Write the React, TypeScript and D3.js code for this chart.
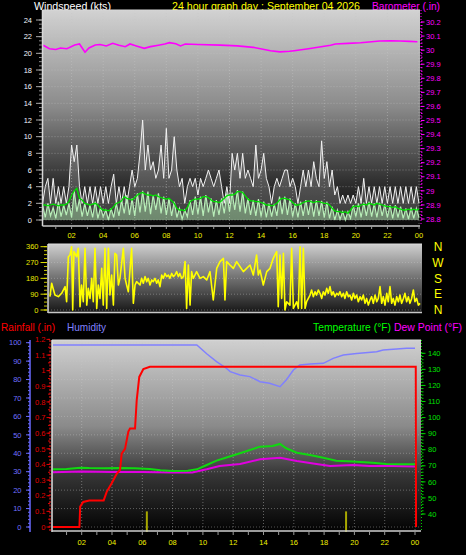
import React from 'react';
import * as d3 from 'd3';

const W = 466, H = 555;
const FONT = '"Liberation Sans", Arial, sans-serif';

// ---------- tick labels ----------
const hourTicks = [2, 4, 6, 8, 10, 12, 14, 16, 18, 20, 22, 24];
const hourTickLabels = ['02', '04', '06', '08', '10', '12', '14', '16', '18', '20', '22', '00'];
const windTicks = [0, 2, 4, 6, 8, 10, 12, 14, 16, 18, 20, 22, 24];
const baroTicks = [28.8, 28.9, 29.0, 29.1, 29.2, 29.3, 29.4, 29.5, 29.6, 29.7, 29.8, 29.9, 30.0, 30.1, 30.2];
const dirTicks = [0, 90, 180, 270, 360];
const compassLabels = ['N', 'E', 'S', 'W', 'N'];
const humTicks = [0, 10, 20, 30, 40, 50, 60, 70, 80, 90, 100];
const rainTicks = [0, 0.1, 0.2, 0.3, 0.4, 0.5, 0.6, 0.7, 0.8, 0.9, 1.0, 1.1, 1.2];
const tempTicks = [40, 50, 60, 70, 80, 90, 100, 110, 120, 130, 140];

// ---------- wind (10-minute samples) ----------
const windGust = [
  2, 4, 5, 2, 5, 2, 4, 2, 4, 2, 4, 9,
  7, 9, 4, 2, 4, 2, 4, 2, 4, 2, 4, 2,
  4, 2, 4, 5.5, 2, 4, 2, 4, 2, 4, 6, 4,
  5, 8, 12, 6, 9, 6, 7, 5, 6, 9, 5, 11,
  5, 6, 10, 6, 4, 5, 2, 4, 5, 4, 5, 3,
  5, 4, 5, 6, 5, 4, 5, 6, 4, 2, 4, 2,
  8, 6, 8, 5, 8, 5, 6, 5, 4, 9, 5, 6,
  8, 5, 4, 2, 4, 5, 4, 5, 6, 6, 4, 5,
  4, 2, 4, 6, 4, 6, 4, 7, 5, 4, 9.5, 5,
  7, 4, 6, 3, 4, 2, 3, 2, 3, 2, 3, 2,
  4, 2, 5, 2, 4, 2, 4, 2, 4, 2, 4, 2,
  4, 2, 4, 2, 4, 2, 4, 2, 4, 2, 4, 2,
];
const windSpeed = [
  1.8, 0.3, 2.0, 0.5, 1.5, 0.2, 2.2, 0.4, 1.8, 0.6, 2.0, 0.3,
  3.5, 1.0, 2.5, 0.4, 2.0, 0.5, 1.8, 0.3, 2.2, 0.2, 1.5, 0.4,
  1.2, 0.0, 1.4, 0.3, 2.0, 0.5, 2.4, 0.8, 3.0, 0.6, 2.6, 0.5,
  3.2, 0.9, 3.5, 1.0, 3.4, 0.7, 3.0, 1.2, 3.2, 0.8, 2.8, 0.6,
  2.6, 0.5, 2.2, 0.3, 1.4, 0.1, 1.2, 0.4, 2.4, 0.6, 2.8, 0.7,
  2.8, 0.5, 3.0, 0.9, 2.6, 0.4, 2.4, 0.6, 2.6, 0.8, 3.2, 1.0,
  3.3, 1.2, 3.6, 1.0, 3.4, 0.8, 2.6, 0.6, 2.4, 0.5, 2.5, 0.4,
  2.2, 0.3, 2.0, 0.4, 1.9, 0.5, 2.8, 0.7, 2.8, 0.6, 2.6, 0.4,
  2.0, 0.3, 2.2, 0.5, 2.4, 0.6, 2.4, 0.4, 2.4, 0.5, 2.3, 0.3,
  2.2, 0.2, 1.6, 0.0, 1.2, 0.1, 1.0, 0.0, 1.0, 0.2, 1.8, 0.4,
  2.0, 0.3, 2.1, 0.5, 2.2, 0.4, 2.0, 0.3, 2.1, 0.5, 1.9, 0.3,
  1.8, 0.2, 1.8, 0.3, 1.6, 0.2, 1.4, 0.1, 1.5, 0.2, 1.4, 0.3,
];
const windAvg = [
  1.8, 1.8, 1.7, 1.8, 1.9, 1.8, 1.7, 1.8, 1.8, 1.9, 2.2, 3.0,
  3.5, 3.8, 2.6, 2.4, 2.0, 1.9, 1.8, 1.9, 2.0, 1.8, 1.4, 1.2,
  1.2, 1.1, 1.3, 1.6, 2.0, 2.1, 2.3, 2.8, 2.6, 2.5, 2.4, 2.7,
  3.0, 3.2, 3.3, 3.1, 3.0, 3.0, 2.9, 3.0, 2.8, 2.7, 2.6, 2.5,
  2.6, 2.3, 2.0, 1.4, 1.2, 1.2, 1.1, 1.5, 2.2, 2.4, 2.5, 2.5,
  2.6, 2.8, 2.8, 2.7, 2.4, 2.2, 2.2, 2.1, 2.3, 2.6, 2.9, 3.0,
  3.0, 3.1, 3.4, 3.4, 3.3, 2.9, 2.5, 2.3, 2.3, 2.2, 2.2, 2.1,
  2.0, 1.8, 1.8, 1.7, 1.8, 2.0, 2.4, 2.6, 2.6, 2.5, 2.4, 2.1,
  1.8, 1.8, 1.9, 2.1, 2.2, 2.3, 2.2, 2.1, 2.2, 2.2, 2.1, 2.0,
  2.0, 1.8, 1.4, 1.1, 1.0, 1.0, 0.9, 1.0, 0.8, 1.2, 1.6, 1.7,
  1.6, 1.8, 1.9, 1.8, 2.0, 1.9, 1.8, 2.0, 1.9, 1.8, 1.7, 1.6,
  1.6, 1.5, 1.6, 1.4, 1.3, 1.2, 1.2, 1.3, 1.2, 1.3, 1.2, 1.3,
];

// ---------- barometer ----------
const baroHours = [0.2, 0.6, 1.0, 1.3, 1.7, 2.2, 2.5, 2.85, 3.1, 3.5, 3.8, 4.2, 4.6, 5.0, 5.4, 5.7, 6.1, 6.6, 7.0, 7.5, 7.9, 8.2, 8.6, 8.9, 9.2, 10.0, 11.4, 12.5, 13.5, 14.2, 14.6, 15.2, 15.8, 16.1, 17.0, 17.7, 18.4, 18.7, 19.5, 20.3, 21.0, 21.5, 22.2, 22.8, 23.4, 23.9];
const baroValues = [30.035, 30.01, 30.005, 30.015, 30.01, 30.036, 30.044, 29.985, 30.015, 30.036, 30.04, 30.03, 30.049, 30.035, 30.024, 30.044, 30.03, 30.013, 30.025, 30.035, 30.044, 30.053, 30.045, 30.03, 30.044, 30.04, 30.036, 30.03, 30.02, 30.005, 29.996, 29.988, 29.992, 29.996, 30.01, 30.022, 30.035, 30.044, 30.048, 30.053, 30.06, 30.065, 30.066, 30.065, 30.062, 30.06];

// ---------- wind direction ----------
const dirHours = [
  0.19, 0.30, 0.51, 0.73, 0.94, 1.16, 1.26, 1.37, 1.48, 1.58, 1.65, 1.73, 1.90, 2.01, 2.12, 2.22, 2.33, 2.44, 2.55, 2.65,
  2.76, 2.87, 2.97, 3.08, 3.19, 3.29, 3.40, 3.51, 3.61, 3.72, 3.83, 3.94, 4.04, 4.15, 4.26, 4.36, 4.47, 4.58, 4.68, 4.90,
  5.01, 5.11, 5.22, 5.43, 5.54, 5.65, 5.75,
  5.97, 6.07, 6.18, 6.29, 6.40, 6.50, 6.61, 6.72, 6.82, 6.93, 7.04, 7.14, 7.25, 7.36, 7.47, 7.57, 7.68, 7.79, 7.89, 8.00,
  8.11, 8.21, 8.32, 8.43, 8.53, 8.64, 8.75,
  8.86, 8.96, 9.07, 9.18, 9.28, 9.39, 9.60, 9.82, 10.03, 10.25, 10.46, 10.67, 10.89, 11.10, 11.32, 11.42, 11.53, 11.74, 11.96, 12.17,
  12.39, 12.60, 12.81, 13.03, 13.24, 13.45, 13.56, 13.67, 13.88, 14.10, 14.31, 14.52, 14.63, 14.74, 14.84, 14.95, 15.06, 15.17, 15.27, 15.38,
  15.59, 15.70, 15.81, 16.02, 16.13, 16.24, 16.34, 16.45, 16.56, 16.66,
  16.88, 16.98, 17.09, 17.20, 17.30, 17.41, 17.52, 17.63, 17.73, 17.84, 17.95, 18.05, 18.16, 18.27, 18.37, 18.48, 18.59, 18.70, 18.80, 18.91,
  19.02, 19.12, 19.23, 19.34, 19.44, 19.55, 19.66, 19.76, 19.87, 19.98, 20.09, 20.19, 20.30, 20.41, 20.51, 20.62, 20.73, 20.83, 20.94, 21.05,
  21.16, 21.26, 21.37, 21.48, 21.58, 21.69, 21.80, 21.90, 22.01, 22.12, 22.22, 22.33, 22.44, 22.55, 22.65, 22.76, 22.87, 22.97, 23.08, 23.19,
  23.29, 23.40, 23.51, 23.61, 23.72, 23.83, 23.94,
];
const dirValues = [
  76, 152, 85, 76, 95, 133, 47, 303, 313, 360, 0, 332, 303, 351, 19, 142, 47, 351, 28, 123,
  66, 180, 47, 351, 9, 142, 66, 237, 28, 351, 9, 351, 85, 199, 28, 322, 313, 142, 180, 351,
  180, 142, 104, 351, 38, 142, 161,
  142, 180, 152, 190, 161, 180, 142, 171, 161, 180, 152, 171, 133, 199, 180, 208, 190, 199, 180, 208,
  190, 199, 218, 190, 208, 180, 190,
  275, 9, 256, 28, 218, 180, 218, 180, 190, 171, 218, 57, 237, 275, 294, 57, 275, 256, 237, 275,
  246, 218, 237, 256, 199, 313, 199, 227, 142, 218, 237, 294, 313, 332, 19, 313, 66, 322, 0, 47,
  28, 351, 9, 47, 9, 360, 9, 351, 9, 47,
  85, 114, 76, 104, 85, 114, 95, 66, 104, 85, 123, 95, 133, 85, 104, 76, 95, 85, 104, 76,
  95, 66, 104, 76, 85, 57, 95, 66, 85, 47, 76, 57, 85, 38, 66, 28, 57, 76, 38, 85,
  47, 66, 133, 38, 76, 28, 95, 47, 133, 38, 66, 28, 76, 47, 85, 38, 66, 95, 47, 76,
  38, 66, 114, 47, 66, 28, 38,
];

// ---------- bottom panel ----------
const humHours = [0.1, 9.6, 10.25, 10.9, 11.57, 11.8, 12.45, 13.1, 13.77, 14.4, 15.09, 15.5, 15.97, 16.4, 17.07, 17.95, 18.6, 19.27, 20.15, 21.47, 21.9, 23.45, 24.0];
const humValues = [98.8, 98.8, 94, 89.7, 86, 84.3, 82.5, 81.6, 78.8, 78, 76.1, 79.8, 85.2, 87.9, 88.4, 88.8, 91.5, 93.3, 94.2, 95.1, 96, 97, 97];

const tempHours = [0.1, 1.0, 1.9, 2.5, 3.5, 4.5, 5.5, 6.5, 7.2, 8.0, 9.0, 9.6, 10.25, 10.9, 11.5, 12.45, 13.1, 13.77, 14.6, 15.09, 15.5, 16.2, 17.07, 17.95, 18.8, 19.9, 21.2, 22.1, 23.0, 24.0];
const tempValues = [67.8, 68.0, 68.8, 68.6, 68.5, 68.6, 68.4, 68.0, 67.2, 66.8, 66.9, 67.8, 70.5, 73.2, 75.0, 77.8, 79.8, 81.9, 82.3, 83.6, 80.9, 78.1, 76.7, 75.0, 73.2, 72.6, 71.9, 71.1, 71.0, 71.0];

const dewHours = [0.1, 2.0, 4.0, 6.0, 8.0, 9.3, 10.25, 11.1, 12.45, 13.77, 15.1, 16.2, 17.5, 18.4, 19.9, 21.0, 22.5, 24.0];
const dewValues = [66.0, 66.4, 66.2, 66.1, 65.8, 65.8, 67.8, 69.9, 71.1, 74.0, 75.0, 73.0, 71.1, 69.9, 70.5, 69.9, 69.8, 69.6];

const rainHours = [0.1, 1.85, 1.9, 2.1, 2.5, 3.45, 3.65, 3.98, 4.31, 4.53, 4.64, 4.86, 5.08, 5.19, 5.52, 5.63, 5.8, 6.07, 6.5, 24.05, 24.07];
const rainValues = [0, 0, 0.13, 0.16, 0.17, 0.17, 0.225, 0.28, 0.34, 0.365, 0.47, 0.5, 0.61, 0.63, 0.63, 0.81, 0.96, 1.01, 1.025, 1.025, 0];

const eventHours = [6.3, 19.45];
const eventValues = [0.1, 0.1];

function fmtOne(v: number) {
  const r = Math.round(v * 10) / 10;
  return Number.isInteger(r) ? String(r) : r.toFixed(1);
}

function series(xs: number[], ys: number[], x: any, y: any) {
  const pts: [number, number][] = ys.map((v, i) => [x(xs[i]), y(v)]);
  return d3.line()(pts) || '';
}
function areaSeries(xs: number[], ys: number[], x: any, y: any, base: number) {
  const gen = d3.area<number>().x((_, i) => x(xs[i])).y0(y(base)).y1((v) => y(v));
  return gen(ys) || '';
}

export default function App() {
  const xTop = d3.scaleLinear().domain([0, 24]).range([40, 419]);
  const yWind = d3.scaleLinear().domain([0, 24]).range([220, 20]);
  const yBaro = d3.scaleLinear().domain([28.8, 30.2]).range([219, 22]);
  const xMid = d3.scaleLinear().domain([0, 24]).range([47, 421]);
  const yDir = d3.scaleLinear().domain([0, 360]).range([310, 246.7]);
  const xBot = d3.scaleLinear().domain([0, 24]).range([51.4, 415]);
  const yHum = d3.scaleLinear().domain([0, 100]).range([527, 342.7]);
  const yRain = d3.scaleLinear().domain([0, 1.2]).range([527, 339.4]);
  const yTemp = d3.scaleLinear().domain([40, 140]).range([514, 353.3]);

  const sampleHours = windGust.map((_, i) => (i + 1) / 6);

  const top = { x0: 42.5, x1: 420, y0: 10, y1: 226 };
  const mid = { x0: 48, x1: 422, y0: 244, y1: 313 };
  const bot = { x0: 52, x1: 421, y0: 340, y1: 532 };

  const hourAll = d3.range(1, 25);
  const windMinor = d3.range(0, 24.01, 0.5);
  const baroMinor = d3.range(28.8, 30.201, 0.025);
  const humMinor = d3.range(0, 100.1, 2);
  const rainMinor = d3.range(0, 1.201, 0.05);
  const tempMinor = d3.range(40, 140.1, 2);
  const dirMinor = d3.range(0, 360.1, 22.5);

  const tick = 7.5;

  return (
    <svg width={W} height={H} style={{ position: 'absolute', left: 0, top: 0, display: 'block' }} fontFamily={FONT}>
      <defs>
        <linearGradient id="gTop" x1="0" y1="0" x2="0" y2="1">
          <stop offset="0" stopColor="#d2d2d2" />
          <stop offset="0.45" stopColor="#8a8a8a" />
          <stop offset="0.8" stopColor="#2e2e2e" />
          <stop offset="1" stopColor="#0a0a0a" />
        </linearGradient>
        <linearGradient id="gMid" x1="0" y1="0" x2="0" y2="1">
          <stop offset="0" stopColor="#cfcfcf" />
          <stop offset="0.5" stopColor="#707070" />
          <stop offset="1" stopColor="#151515" />
        </linearGradient>
        <linearGradient id="gBot" x1="0" y1="0" x2="0" y2="1">
          <stop offset="0" stopColor="#d0d0d0" />
          <stop offset="0.45" stopColor="#8a8a8a" />
          <stop offset="0.7" stopColor="#363636" />
          <stop offset="1" stopColor="#020202" />
        </linearGradient>
        <clipPath id="cTop"><rect x={top.x0} y={top.y0} width={top.x1 - top.x0} height={top.y1 - top.y0} /></clipPath>
        <clipPath id="cMid"><rect x={mid.x0} y={mid.y0} width={mid.x1 - mid.x0} height={mid.y1 - mid.y0} /></clipPath>
        <clipPath id="cBot"><rect x={bot.x0} y={bot.y0} width={bot.x1 - bot.x0 + 2} height={bot.y1 - bot.y0} /></clipPath>
        <clipPath id="cRainLbl"><rect x={0} y={337} width={60} height={200} /></clipPath>
      </defs>
      <rect x={0} y={0} width={W} height={H} fill="#000" />

      {/* ===== headers ===== */}
      <text x={34} y={10} fontSize={11} fill="#ffffff" textLength={77} lengthAdjust="spacingAndGlyphs">Windspeed (kts)</text>
      <text x={172} y={10} fontSize={11} fill="#ffff00" textLength={188} lengthAdjust="spacingAndGlyphs">24 hour graph day : September 04 2026</text>
      <text x={372} y={10} fontSize={11} fill="#ff00ff" textLength={68} lengthAdjust="spacingAndGlyphs">Barometer (.in)</text>

      {/* ===== TOP PANEL ===== */}
      <rect x={top.x0} y={top.y0} width={top.x1 - top.x0} height={top.y1 - top.y0} fill="url(#gTop)" />
      {windTicks.map((t) => (
        <line key={'tg' + t} x1={top.x0} x2={top.x1} y1={yWind(t)} y2={yWind(t)} stroke="#c8c8c8" strokeOpacity={0.45} strokeDasharray="1,2" />
      ))}
      {hourTicks.map((h) => (
        <line key={'tv' + h} x1={xTop(h)} x2={xTop(h)} y1={top.y0} y2={top.y1} stroke="#c8c8c8" strokeOpacity={0.45} strokeDasharray="1,2" />
      ))}
      <g clipPath="url(#cTop)">
        <path d={areaSeries(sampleHours, windGust, xTop, yWind, 0)} fill="#ffffff" fillOpacity={0.18} stroke="none" />
        <path d={series(sampleHours, windGust, xTop, yWind)} fill="none" stroke="#f2f2f2" strokeWidth={1} />
        <path d={areaSeries(sampleHours, windSpeed, xTop, yWind, 0)} fill="#b0e8b0" fillOpacity={0.45} stroke="none" />
        <path d={series(sampleHours, windSpeed, xTop, yWind)} fill="none" stroke="#b8eeb8" strokeWidth={1.2} />
        <path d={series(sampleHours, windAvg, xTop, yWind)} fill="none" stroke="#00e000" strokeWidth={1.3} />
        <path d={series(baroHours, baroValues, xTop, yBaro)} fill="none" stroke="#ff00ff" strokeWidth={1.6} />
      </g>
      <line x1={top.x0} x2={top.x0} y1={top.y0} y2={top.y1} stroke="#d8d8d8" strokeWidth={1.5} />
      <line x1={top.x0} x2={top.x1} y1={top.y1} y2={top.y1} stroke="#c8c8c8" strokeWidth={1.5} />
      <line x1={top.x0} x2={top.x1} y1={top.y0} y2={top.y0} stroke="#d8d8d8" strokeWidth={1} />
      {hourAll.map((h) => (
        <line key={'tt' + h} x1={xTop(h)} x2={xTop(h)} y1={top.y1} y2={top.y1 + 3} stroke="#9a9a9a" />
      ))}
      {windMinor.map((t) => (
        <line key={'wm' + t} x1={39} x2={42} y1={yWind(t)} y2={yWind(t)} stroke="#8c8c8c" />
      ))}
      {windTicks.map((t) => (
        <g key={'wt' + t}>
          <line x1={36} x2={42} y1={yWind(t)} y2={yWind(t)} stroke="#a8a8a8" />
          <text x={32} y={yWind(t) + 2.7} fontSize={tick} fill="#f0f4ff" textAnchor="end">{t}</text>
        </g>
      ))}
      <line x1={421} x2={421} y1={top.y0} y2={top.y1} stroke="#ff00ff" strokeDasharray="1,2" />
      {baroMinor.map((t) => (
        <line key={'bm' + t} x1={421} x2={422.5} y1={yBaro(t)} y2={yBaro(t)} stroke="#ff00ff" />
      ))}
      {baroTicks.map((t) => (
        <g key={'bt' + t}>
          <line x1={421} x2={424.5} y1={yBaro(t)} y2={yBaro(t)} stroke="#ff00ff" />
          <text x={426} y={yBaro(t) + 2.7} fontSize={tick} fill="#ff00ff">{fmtOne(t)}</text>
        </g>
      ))}
      {hourTicks.map((h, i) => (
        <text key={'tl' + h} x={xTop(h)} y={237.5} fontSize={tick} fill="#f0f000" textAnchor="middle">{hourTickLabels[i]}</text>
      ))}

      {/* ===== MIDDLE PANEL ===== */}
      <rect x={mid.x0} y={mid.y0} width={mid.x1 - mid.x0} height={mid.y1 - mid.y0} fill="url(#gMid)" />
      {dirTicks.map((t) => (
        <line key={'mg' + t} x1={mid.x0} x2={mid.x1} y1={yDir(t)} y2={yDir(t)} stroke="#c8c8c8" strokeOpacity={0.4} strokeDasharray="1,2" />
      ))}
      <g clipPath="url(#cMid)">
        <path d={series(dirHours, dirValues, xMid, yDir)} fill="none" stroke="#ffff00" strokeWidth={1.6} strokeLinejoin="round" />
      </g>
      <line x1={mid.x0} x2={mid.x0} y1={mid.y0} y2={mid.y1} stroke="#d8d8d8" strokeWidth={1.5} />
      <line x1={mid.x0} x2={mid.x1} y1={mid.y1 - 0.5} y2={mid.y1 - 0.5} stroke="#c8c8c8" strokeWidth={1.5} />
      <line x1={mid.x0} x2={mid.x1} y1={mid.y0} y2={mid.y0} stroke="#dcdcdc" strokeWidth={1} />
      {dirMinor.map((t) => (
        <line key={'dm' + t} x1={44} x2={47} y1={yDir(t)} y2={yDir(t)} stroke="#c8c800" />
      ))}
      {dirTicks.map((t, i) => (
        <g key={'dt' + t}>
          <line x1={40.5} x2={47} y1={yDir(t)} y2={yDir(t)} stroke="#e0e000" />
          <text x={38.5} y={yDir(t) + 2.7} fontSize={tick} fill="#e8e800" textAnchor="end">{t}</text>
          <text x={438} y={yDir(t) + 4.3} fontSize={12} fill="#ffff00" textAnchor="middle">{compassLabels[i]}</text>
        </g>
      ))}

      {/* ===== BOTTOM PANEL ===== */}
      <text x={1} y={331} fontSize={11} fill="#ff0000" textLength={54} lengthAdjust="spacingAndGlyphs">Rainfall (.in)</text>
      <text x={67} y={331} fontSize={11} fill="#8080ff" textLength={39} lengthAdjust="spacingAndGlyphs">Humidity</text>
      <text x={313} y={331} fontSize={11} fill="#00ff00" textLength={78} lengthAdjust="spacingAndGlyphs">Temperature (°F)</text>
      <text x={394} y={331} fontSize={11} fill="#ff00ff" textLength={68} lengthAdjust="spacingAndGlyphs">Dew Point (°F)</text>

      <rect x={bot.x0} y={bot.y0} width={bot.x1 - bot.x0} height={bot.y1 - bot.y0} fill="url(#gBot)" />
      {humTicks.map((t) => (
        <line key={'hg' + t} x1={bot.x0} x2={bot.x1} y1={yHum(t)} y2={yHum(t)} stroke="#c8c8c8" strokeOpacity={0.4} strokeDasharray="1,2" />
      ))}
      {hourTicks.map((h) => (
        <line key={'bv' + h} x1={xBot(h)} x2={xBot(h)} y1={bot.y0} y2={bot.y1} stroke="#c8c8c8" strokeOpacity={0.45} strokeDasharray="1,2" />
      ))}
      <g clipPath="url(#cBot)">
        <path d={series(humHours, humValues, xBot, yHum)} fill="none" stroke="#8080ff" strokeWidth={1.5} />
        <path d={series(dewHours, dewValues, xBot, yTemp)} fill="none" stroke="#e000e0" strokeWidth={2} />
        <path d={series(tempHours, tempValues, xBot, yTemp)} fill="none" stroke="#10d810" strokeWidth={2} />
        <path d={series(rainHours, rainValues, xBot, yRain)} fill="none" stroke="#ff0000" strokeWidth={2} />
        {eventHours.map((h, i) => (
          <line key={'ev' + i} x1={xBot(h)} x2={xBot(h)} y1={bot.y1} y2={yRain(eventValues[i])} stroke="#a8a800" strokeWidth={2} />
        ))}
      </g>
      <line x1={bot.x0} x2={bot.x0} y1={bot.y0} y2={bot.y1} stroke="#e0e0e0" strokeWidth={1.5} />
      <line x1={bot.x0} x2={bot.x1} y1={bot.y1 - 1} y2={bot.y1 - 1} stroke="#cfcfcf" strokeWidth={1.5} />
      <line x1={bot.x0} x2={bot.x1} y1={bot.y0} y2={bot.y0} stroke="#dcdcdc" strokeWidth={1} />
      {hourAll.map((h) => (
        <line key={'bt2' + h} x1={xBot(h)} x2={xBot(h)} y1={bot.y1} y2={bot.y1 + 3} stroke="#9a9a9a" />
      ))}
      <line x1={30} x2={30} y1={bot.y0} y2={bot.y1} stroke="#6a6aff" strokeWidth={1.5} />
      {humMinor.map((t) => (
        <line key={'hm' + t} x1={28} x2={30} y1={yHum(t)} y2={yHum(t)} stroke="#6a6aff" />
      ))}
      {humTicks.map((t) => (
        <g key={'ht' + t}>
          <line x1={26} x2={30} y1={yHum(t)} y2={yHum(t)} stroke="#6a6aff" />
          <text x={21.5} y={yHum(t) + 2.7} fontSize={tick} fill="#7070ff" textAnchor="end">{t}</text>
        </g>
      ))}
      <line x1={50} x2={50} y1={bot.y0} y2={bot.y1} stroke="#ff2020" strokeDasharray="2,1.5" />
      <g clipPath="url(#cRainLbl)">
        {rainMinor.map((t) => (
          <line key={'rm' + t} x1={48} x2={50} y1={yRain(t)} y2={yRain(t)} stroke="#e00000" />
        ))}
        {rainTicks.map((t) => (
          <g key={'rt' + t}>
            <line x1={46.5} x2={50} y1={yRain(t)} y2={yRain(t)} stroke="#e00000" />
            <text x={45.5} y={yRain(t) + 2.7} fontSize={tick} fill="#e00000" textAnchor="end">{fmtOne(t)}</text>
          </g>
        ))}
      </g>
      <line x1={421.5} x2={421.5} y1={bot.y0} y2={bot.y1} stroke="#00d000" strokeDasharray="1,2" />
      {tempMinor.map((t) => (
        <line key={'tm' + t} x1={421.5} x2={423.5} y1={yTemp(t)} y2={yTemp(t)} stroke="#00d000" />
      ))}
      {tempTicks.map((t) => (
        <g key={'ttk' + t}>
          <line x1={421.5} x2={425.5} y1={yTemp(t)} y2={yTemp(t)} stroke="#00d000" />
          <text x={428} y={yTemp(t) + 2.7} fontSize={tick} fill="#00e000">{t}</text>
        </g>
      ))}
      {hourTicks.map((h, i) => (
        <text key={'bl' + h} x={xBot(h)} y={544.5} fontSize={tick} fill="#f0f000" textAnchor="middle">{hourTickLabels[i]}</text>
      ))}
    </svg>
  );
}
